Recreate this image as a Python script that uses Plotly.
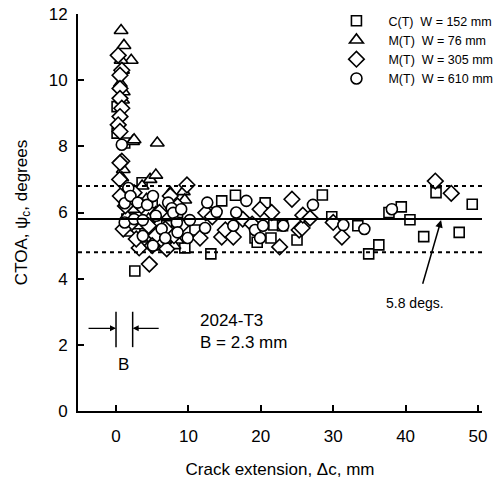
import plotly.graph_objects as go

# C(T) W = 152 mm (squares)
ct152_x = [0.15, 0.15, 1.2, 1.5, 2.6, 3.6, 4.0, 5.0, 6.1, 7.0, 8.5, 9.5, 10.9, 13.1, 13.4,
           14.6, 16.5, 19.2, 19.5, 20.6, 21.4, 21.8, 23.0, 25.0, 28.5, 29.8, 33.4, 34.9, 36.3,
           37.7, 39.4, 40.6, 42.5, 44.2, 47.4, 49.2]
ct152_y = [9.2, 8.4, 8.1, 5.8, 4.23, 6.9, 5.5, 6.3, 5.02, 5.6, 6.0, 4.93, 5.47, 4.75, 6.0,
           6.35, 6.52, 5.23, 5.1, 6.29, 5.23, 5.62, 5.6, 5.17, 6.53, 5.87, 5.6, 4.75, 5.02,
           6.0, 6.17, 5.78, 5.27, 6.6, 5.4, 6.25]

# M(T) W = 76 mm (triangles)
mt76_x = [0.7, 1.1, 2.1, 0.7, 0.9, 0.6, 1.0, 0.9, 2.3, 2.5, 5.7, 1.0, 0.8, 4.7, 5.5,
          3.6, 1.2, 1.8, 2.5, 3.0, 4.2, 5.5, 7.5, 7.0, 7.8, 8.4, 9.3, 9.5, 1.8, 3.5, 6.0,
          8.0, 1.5, 4.5]
mt76_y = [11.5, 11.05, 10.6, 10.6, 10.3, 9.9, 9.65, 9.4, 8.15, 8.2, 8.1, 7.3, 7.05, 7.0, 7.13,
          6.8, 6.6, 6.3, 6.1, 5.6, 6.4, 6.0, 6.6, 5.4, 6.2, 5.17, 6.63, 6.38, 5.38, 5.2, 5.3,
          5.0, 5.9, 5.8]

# M(T) W = 305 mm (diamonds)
mt305_x = [0.3, 0.8, 0.55, 0.55, 0.55, 0.8, 0.55, 0.3, 0.55, 0.8, 0.55,
           0.5, 0.6, 1.3, 2.1, 3.2, 4.6, 1.0, 2.5, 3.5, 4.5, 5.5, 6.0, 6.8, 7.5, 8.5,
           9.8, 8.0, 9.0, 2.8, 5.0, 7.0,
           11.6, 12.4, 13.3, 14.6, 15.1, 16.2, 17.5, 18.8, 19.9, 21.5, 22.6, 24.3, 25.3,
           25.7, 25.8, 26.8, 30.0, 31.2, 44.1, 46.3]
mt305_y = [10.75, 10.3, 10.15, 9.75, 9.45, 9.15, 8.9, 8.65, 8.45, 7.55, 7.5,
           7.0, 6.5, 6.2, 5.68, 4.93, 4.44, 5.5, 6.6, 6.2, 5.6, 5.3, 6.0, 5.5, 6.5, 6.2,
           6.83, 5.3, 5.6, 5.2, 5.0, 4.9,
           5.23, 5.99, 5.87, 5.26, 5.47, 5.26, 5.8, 5.65, 6.1, 6.0, 4.96, 6.4, 5.47,
           5.53, 5.92, 5.83, 5.7, 5.26, 6.95, 6.58]

# M(T) W = 610 mm (circles)
mt610_x = [0.8, 1.2, 1.7, 1.2, 2.0, 2.5, 3.0, 3.7, 3.7, 4.3, 5.1, 5.1, 5.5, 6.3, 6.8,
           7.2, 7.7, 7.9, 8.4, 8.5, 9.0, 9.9, 10.2, 12.3, 12.6, 13.9, 16.2, 16.6, 18.0,
           19.2, 19.9, 20.3, 23.1, 27.2, 31.4, 34.3, 38.1]
mt610_y = [8.05, 5.7, 6.74, 6.28, 6.5, 5.8, 6.3, 5.77, 5.29, 6.23, 5.0, 6.5, 5.9, 5.5, 5.23,
           6.3, 6.13, 5.99, 5.7, 5.4, 6.1, 5.23, 5.77, 5.53, 6.3, 6.02, 5.6, 6.0, 6.35,
           5.47, 5.23, 5.6, 5.6, 6.23, 5.62, 5.5, 6.1]

mean_ctoa = 5.8
band = 1.0
B_mm = 2.3

x_ticks = [0, 10, 20, 30, 40, 50]
y_ticks = [0, 2, 4, 6, 8, 10, 12]

FONT = "Liberation Sans, Arial, Helvetica, sans-serif"
NB = "\u00a0"

fig = go.Figure()

series = [
    ("C(T)" + NB * 2 + "W = 152 mm", ct152_x, ct152_y, "square", 10),
    ("M(T)" + NB * 2 + "W = 76 mm", mt76_x, mt76_y, "triangle-up", 12),
    ("M(T)" + NB * 2 + "W = 305 mm", mt305_x, mt305_y, "diamond", 12),
    ("M(T)" + NB * 2 + "W = 610 mm", mt610_x, mt610_y, "circle", 11),
]
for name, xs, ys, sym, sz in series:
    fig.add_trace(go.Scatter(
        x=xs, y=ys, mode="markers", name=name,
        marker=dict(symbol=sym, size=sz, color="white",
                    line=dict(color="black", width=1.6)),
    ))

# mean and scatter band lines
fig.add_hline(y=mean_ctoa, line=dict(color="black", width=2))
for yy in (mean_ctoa + band, mean_ctoa - band):
    fig.add_hline(y=yy, line=dict(color="black", width=2, dash="4px,4px"))

# B indicator
for xx in (0, B_mm):
    fig.add_shape(type="line", x0=xx, x1=xx, y0=1.93, y1=3.0,
                  line=dict(color="black", width=1.5))
fig.add_annotation(x=0, y=2.5, ax=-4.0, ay=2.5, xref="x", yref="y", axref="x", ayref="y",
                   text="", showarrow=True, arrowhead=2, arrowsize=1, arrowwidth=1.2,
                   arrowcolor="black")
fig.add_annotation(x=B_mm, y=2.5, ax=6.1, ay=2.5, xref="x", yref="y", axref="x", ayref="y",
                   text="", showarrow=True, arrowhead=2, arrowsize=1, arrowwidth=1.2,
                   arrowcolor="black")
fig.add_annotation(x=1.0, y=1.4, text="B", showarrow=False,
                   font=dict(family=FONT, size=17, color="black"))
fig.add_annotation(x=11.3, y=2.4, xanchor="left", text="2024-T3<br>B = 2.3 mm",
                   showarrow=False, align="left",
                   font=dict(family=FONT, size=17, color="black"))

# 5.8 degs arrow
fig.add_annotation(x=44.9, y=5.77, ax=42.3, ay=3.8, xref="x", yref="y", axref="x", ayref="y",
                   text="", showarrow=True, arrowhead=2, arrowsize=1, arrowwidth=1.5,
                   arrowcolor="black")
fig.add_annotation(x=41.3, y=3.26, text="5.8 degs.", showarrow=False,
                   font=dict(family=FONT, size=14, color="black"))

fig.update_layout(
    width=496, height=485,
    margin=dict(l=78, r=14, t=14, b=74, autoexpand=False),
    paper_bgcolor="white", plot_bgcolor="white",
    font=dict(family=FONT, size=17, color="black"),
    showlegend=True,
    legend=dict(x=0.61, y=1.02, xanchor="left", yanchor="top",
                bgcolor="rgba(0,0,0,0)", itemwidth=54,
                font=dict(family=FONT, size=12.5, color="black"),
                tracegroupgap=0),
    xaxis=dict(range=[-5.25, 50.55], tickvals=x_ticks, ticks="inside", ticklen=6,
               tickwidth=1.5, tickcolor="black", showline=True, linecolor="black",
               linewidth=2, showgrid=False, zeroline=False, ticklabelstandoff=9,
               title=dict(text="Crack extension, Δc, mm", standoff=18,
                          font=dict(family=FONT, size=17)),
               tickfont=dict(family=FONT, size=17)),
    yaxis=dict(range=[0, 12], tickvals=y_ticks, ticks="inside", ticklen=6,
               tickwidth=1.5, tickcolor="black", showline=True, linecolor="black",
               linewidth=2, showgrid=False, zeroline=False, ticklabelstandoff=5,
               title=dict(text="CTOA, ψ<sub>c</sub>, degrees", standoff=17,
                          font=dict(family=FONT, size=17)),
               tickfont=dict(family=FONT, size=17)),
)

fig.write_html("out.html", config={"displayModeBar": False},
               post_script="document.body.style.margin='0px';document.body.style.overflow='hidden';")
